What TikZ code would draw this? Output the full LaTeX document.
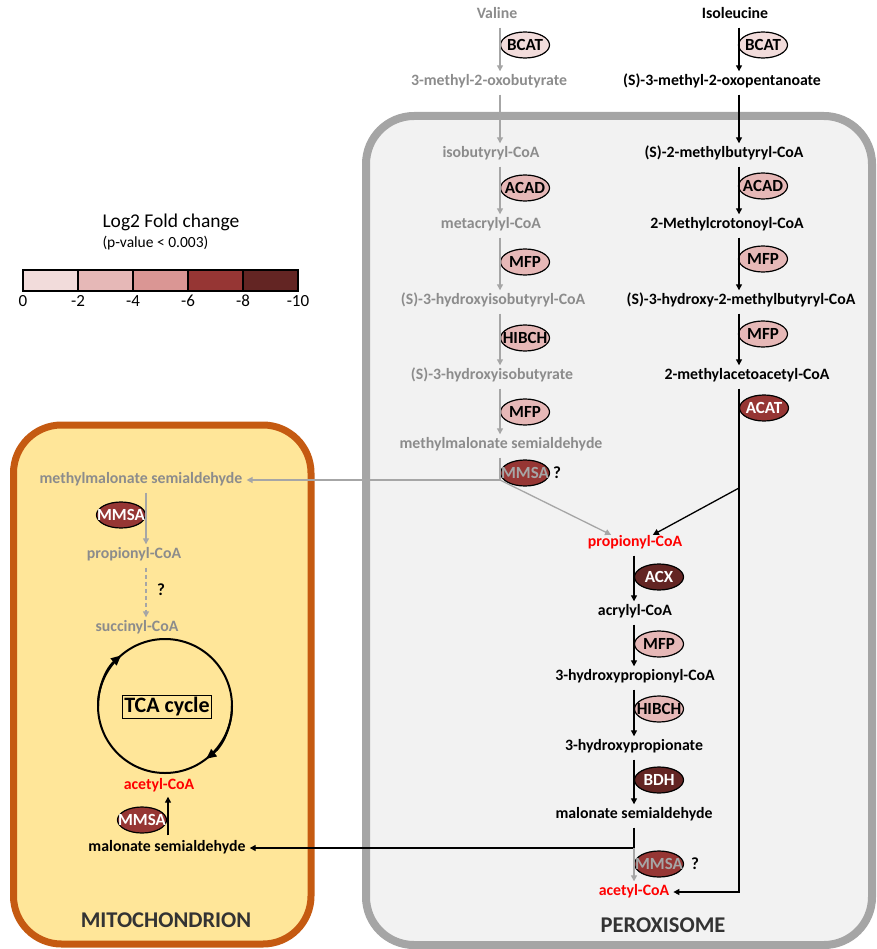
\documentclass[tikz,border=0pt]{standalone}
\usepackage{fontspec}
\setmainfont{Carlito}
\usetikzlibrary{arrows.meta, shapes.geometric, calc}

\definecolor{fc1}{HTML}{F2DCDB}
\definecolor{fc2}{HTML}{E6B8B7}
\definecolor{fc3}{HTML}{DA9694}
\definecolor{fc4}{HTML}{963634}
\definecolor{fc5}{HTML}{632523}
\definecolor{txtgray}{HTML}{8C8C8C}
\definecolor{lngray}{HTML}{A6A6A6}
\definecolor{peroborder}{HTML}{A5A5A5}
\definecolor{perofill}{HTML}{F2F2F2}
\definecolor{mitoborder}{HTML}{C55A11}
\definecolor{mitofill}{HTML}{FFE699}
\definecolor{titlegray}{HTML}{333333}

\newcommand{\zw}[1]{\makebox[0pt]{#1}}

\begin{document}
\begin{tikzpicture}[x=1pt, y=-1pt,
    met/.style={font=\fontsize{15.8}{18}\selectfont\bfseries, inner sep=3pt,
                text height=10pt, text depth=3pt},
    gmet/.style={met, text=txtgray},
    rmet/.style={met, text=red},
    enz/.style={ellipse, draw=black, line width=1.2pt, minimum width=49pt,
                minimum height=26pt, inner sep=0pt,
                font=\fontsize{17}{19}\selectfont\bfseries},
    enz1/.style={enz, fill=fc1},
    enz2/.style={enz, fill=fc2},
    enz4/.style={enz, fill=fc4, text=white},
    enz5/.style={enz, fill=fc5, text=white},
    enzq/.style={enz, fill=fc4, text=lngray},
    qmark/.style={font=\fontsize{17}{19}\selectfont\bfseries, inner sep=1pt},
    arr/.style={-{Triangle[length=6pt,width=6pt]}, line width=1.3pt,
                shorten <=3pt, shorten >=1pt},
    barr/.style={arr, draw=black},
    garr/.style={arr, draw=lngray},
    bline/.style={line width=1.3pt, draw=black},
    gline/.style={line width=1.3pt, draw=lngray},
    title/.style={font=\fontsize{22.5}{25}\selectfont\bfseries, text=titlegray},
    cyc/.style={line width=2pt, draw=black}
]
\useasboundingbox (0,0) rectangle (876,949);

% compartments
\draw[line width=8pt, draw=peroborder, fill=perofill, rounded corners=48pt]
    (366,116) rectangle (872,945);
\draw[line width=7pt, draw=mitoborder, fill=mitofill, rounded corners=48pt]
    (13.5,425) rectangle (311,944);

% legend
\node[anchor=west, font=\fontsize{19.5}{21}\selectfont] (lgtitle) at (99,222) {Log2 Fold change};
\node[anchor=west, font=\fontsize{15.5}{17}\selectfont] (lgp) at (99,243) {(p-value < 0.003)};
\foreach \c [count=\i from 0] in {fc1,fc2,fc3,fc4,fc5}
    \draw[line width=1.2pt, fill=\c] (23+55*\i,270) rectangle ++(55,21);
\foreach \v [count=\i from 0] in {0,-2,-4,-6,-8,-10}
    \node[font=\fontsize{17}{19}\selectfont, inner sep=0pt] (lb\i) at (23+55*\i,301) {\v};

% column positions
\coordinate (lc) at (500,0);
\coordinate (rc) at (739,0);
\coordinate (cc) at (634,0);
\coordinate (mt) at (146,0);
\coordinate (mb) at (168,0);

% valine branch
\node[gmet] (val) at (497,15) {Valine};
\node[gmet] (mob) at (489,82) {3-methyl-2-oxobutyrate};
\node[gmet] (ibc) at (491,154) {isobutyryl-CoA};
\node[gmet] (mcy) at (491,225) {metacrylyl-CoA};
\node[gmet] (hic) at (493,301) {(S)-3-hydroxyisobutyryl-CoA};
\node[gmet] (hib) at (492,376) {(S)-3-hydroxyisobutyrate};
\node[gmet] (mmsP) at (501,445) {methylmalonate semialdehyde};

\node[enz1] (bcatL) at (525,45) {\zw{BCAT}};
\node[enz2] (acadL) at (525,188) {\zw{ACAD}};
\node[enz2] (mfpL1) at (525,262) {\zw{MFP}};
\node[enz2] (hibchL) at (525,338) {\zw{HIBCH}};
\node[enz2] (mfpL2) at (525,412) {\zw{MFP}};
\node[enzq] (mmsaL) at (525,473) {\zw{MMSA}};
\node[qmark] (q1) at (557,473) {?};

% isoleucine branch
\node[met] (ile) at (735,15) {Isoleucine};
\node[met] (smo) at (722,82) {(S)-3-methyl-2-oxopentanoate};
\node[met] (smb) at (724,154) {(S)-2-methylbutyryl-CoA};
\node[met] (mcc) at (727,225) {2-Methylcrotonoyl-CoA};
\node[met] (hmb) at (741,301) {(S)-3-hydroxy-2-methylbutyryl-CoA};
\node[met] (maa) at (747,376) {2-methylacetoacetyl-CoA};

\node[enz1] (bcatR) at (763,45) {\zw{BCAT}};
\node[enz2] (acadR) at (763,186) {\zw{ACAD}};
\node[enz2] (mfpR1) at (763,259) {\zw{MFP}};
\node[enz2] (mfpR2) at (763,334) {\zw{MFP}};
\node[enz4] (acat) at (764,408) {\zw{ACAT}};

% propionyl-CoA branch
\node[rmet] (propP) at (635,543) {propionyl-CoA};
\node[met] (acr) at (635,612) {acrylyl-CoA};
\node[met] (hpc) at (635,677) {3-hydroxypropionyl-CoA};
\node[met] (hpa) at (634,747) {3-hydroxypropionate};
\node[met] (malP) at (634,815) {malonate semialdehyde};
\node[rmet] (acetP) at (634,892) {acetyl-CoA};

\node[enz5] (acx) at (659,577) {\zw{ACX}};
\node[enz2] (mfpP) at (659,644) {\zw{MFP}};
\node[enz2] (hibchP) at (659,709) {\zw{HIBCH}};
\node[enz5] (bdh) at (659,780) {\zw{BDH}};
\node[enzq] (mmsaP) at (659,864) {\zw{MMSA}};
\node[qmark] (q2) at (695,864) {?};

% mitochondrion
\node[gmet] (mmsM) at (141,480) {methylmalonate semialdehyde};
\node[gmet] (propM) at (134,555) {propionyl-CoA};
\node[gmet] (sucM) at (137,628) {succinyl-CoA};
\node[rmet] (acetM) at (159,786) {acetyl-CoA};
\node[met] (malM) at (167,848) {malonate semialdehyde};
\node[enz4] (mmsaM1) at (121,515) {\zw{MMSA}};
\node[enz4] (mmsaM2) at (142,820) {\zw{MMSA}};
\node[qmark] (q3) at (161,590) {?};

\coordinate (tcac) at (165,706);
\draw[cyc] (tcac) circle[radius=67];
\draw[cyc, -{Triangle[length=10pt,width=9pt]}]
    ($(tcac)+(180:67)$) arc[start angle=180, end angle=229, radius=67];
\draw[cyc, -{Triangle[length=10pt,width=9pt]}]
    ($(tcac)+(0:67)$) arc[start angle=0, end angle=52, radius=67];
\node[draw, line width=1.3pt, font=\fontsize{22}{24}\selectfont\bfseries,
      inner xsep=2pt, inner ysep=2pt] (tca) at (167,707) {TCA cycle};

\node[title] (mito) at (166,920) {MITOCHONDRION};
\node[title] (pero) at (663,925) {PEROXISOME};

% valine arrows
\draw[garr] (val.south -| lc) -- (mob.north -| lc);
\draw[garr] (mob.south -| lc) -- (ibc.north -| lc);
\draw[garr] (ibc.south -| lc) -- (mcy.north -| lc);
\draw[garr] (mcy.south -| lc) -- (hic.north -| lc);
\draw[garr] (hic.south -| lc) -- (hib.north -| lc);
\draw[garr] (hib.south -| lc) -- (mmsP.north -| lc);
\coordinate (lsplit) at (500,480);
\draw[gline, shorten <=3pt] (mmsP.south -| lc) -- (lsplit);
\draw[garr, shorten <=0pt] (lsplit) -- (mmsM.east);
\draw[garr, shorten <=0pt] (lsplit) -- ($(propP.north)+(-23,2)$);

% isoleucine arrows
\draw[barr] (ile.south -| rc) -- (smo.north -| rc);
\draw[barr] (smo.south -| rc) -- (smb.north -| rc);
\draw[barr] (smb.south -| rc) -- (mcc.north -| rc);
\draw[barr] (mcc.south -| rc) -- (hmb.north -| rc);
\draw[barr] (hmb.south -| rc) -- (maa.north -| rc);
\coordinate (rsplit) at (739,488);
\draw[barr] (maa.south -| rc) -- (rc |- acetP) -- (acetP.east);
\draw[barr, shorten <=0pt] (rsplit) -- ($(propP.north)+(17,2)$);

% propionyl-CoA arrows
\draw[barr] (propP.south -| cc) -- (acr.north -| cc);
\draw[barr] (acr.south -| cc) -- (hpc.north -| cc);
\draw[barr] (hpc.south -| cc) -- (hpa.north -| cc);
\draw[barr] (hpa.south -| cc) -- (malP.north -| cc);
\coordinate (csplit) at (634,848);
\draw[bline, shorten <=3pt] (malP.south -| cc) -- (csplit);
\draw[barr, shorten <=0pt] (csplit) -- (malM.east);
\draw[garr, shorten <=0pt] (csplit) -- (acetP.north -| cc);

% mitochondrion arrows
\draw[garr] (mmsM.south -| mt) -- (propM.north -| mt);
\draw[garr, dashed, dash pattern=on 4pt off 3pt] (propM.south -| mt) -- (sucM.north -| mt);
\draw[barr] (malM.north -| mb) -- (acetM.south -| mb);
\end{tikzpicture}
\end{document}
